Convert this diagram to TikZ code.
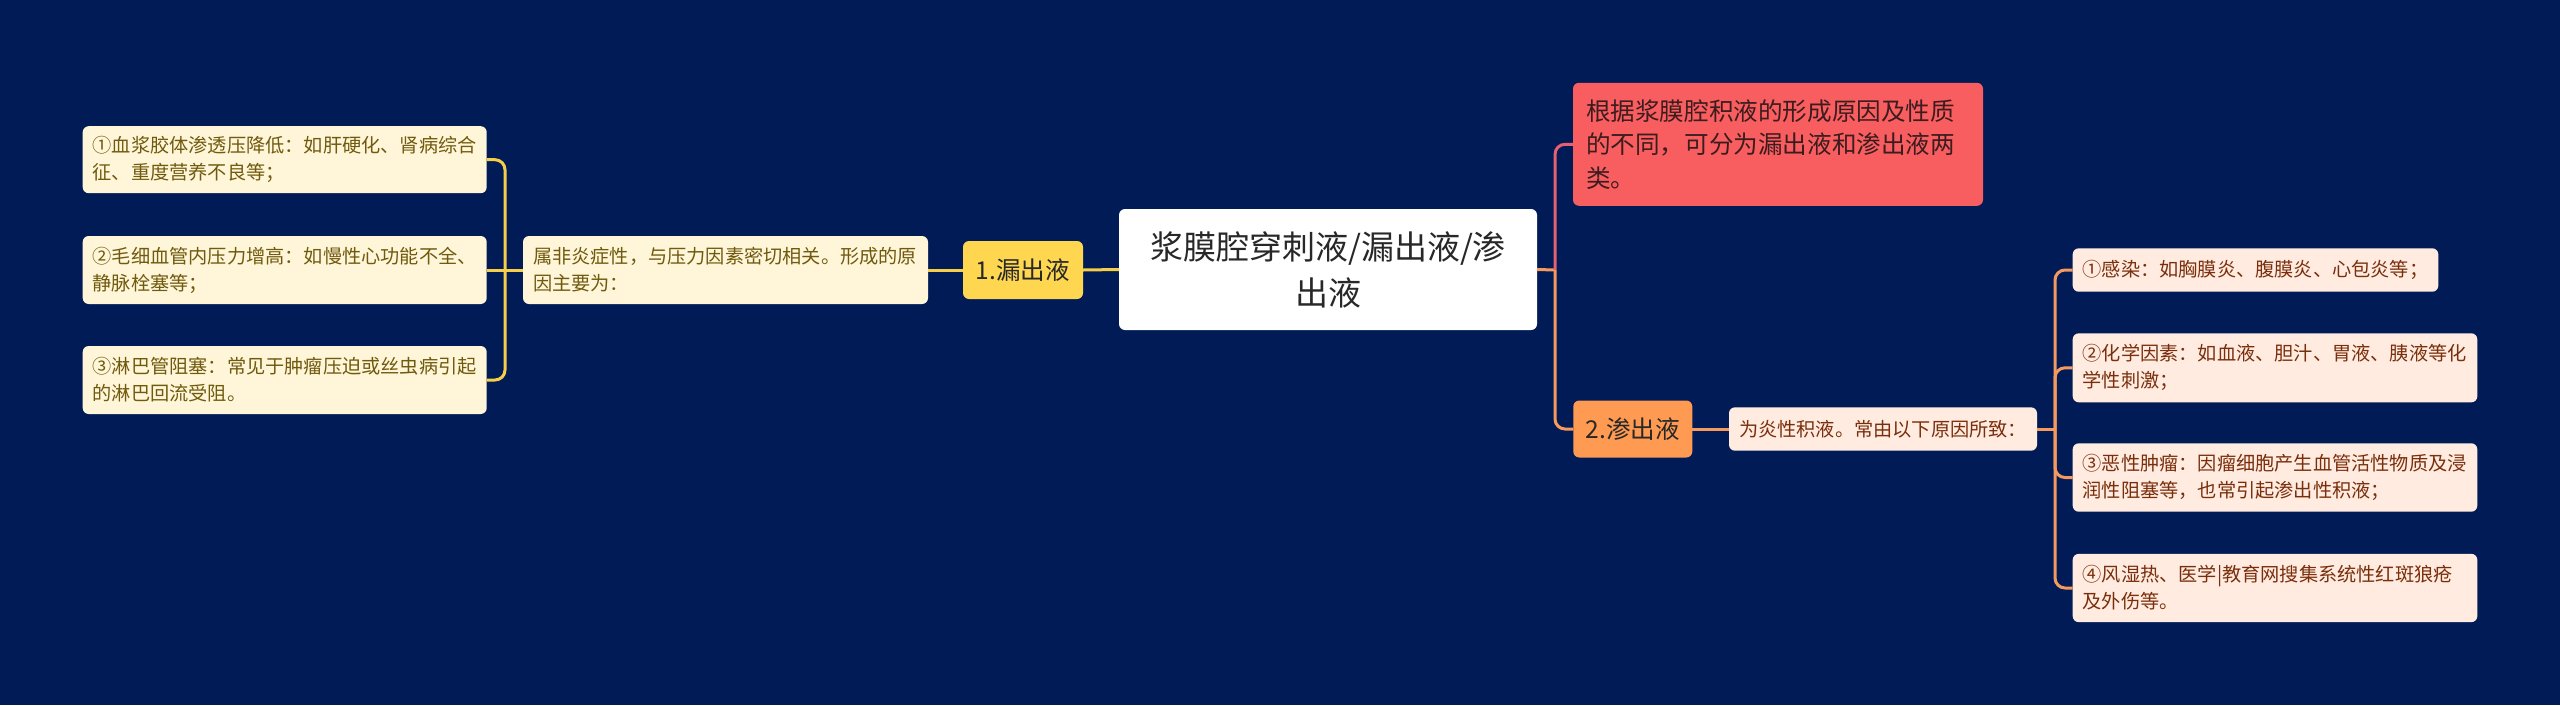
\documentclass[tikz,border=0pt]{standalone}
\usepackage{fontspec}
\setmainfont{Noto Sans CJK SC}
\definecolor{bg}{RGB}{1,27,87}
\definecolor{ylw}{RGB}{255,214,79}
\definecolor{ylwline}{RGB}{246,206,72}
\definecolor{creamY}{RGB}{255,246,217}
\definecolor{oliveT}{RGB}{112,90,14}
\definecolor{redbox}{RGB}{248,94,96}
\definecolor{redT}{RGB}{60,28,30}
\definecolor{pinkline}{RGB}{230,96,112}
\definecolor{orgbox}{RGB}{255,154,82}
\definecolor{orgline}{RGB}{244,154,94}
\definecolor{peach}{RGB}{255,235,224}
\definecolor{brownT}{RGB}{122,47,12}
\definecolor{darkT}{RGB}{40,40,40}
\begin{document}
\begin{tikzpicture}[x=1pt,y=-1pt,
  base/.style={rounded corners=6pt, inner ysep=0pt, outer sep=0pt},
  rootbox/.style={base, fill=white, text=darkT, align=center, inner xsep=10pt,
    font=\fontsize{33}{46}\selectfont},
  lvlY/.style={base, fill=ylw, text=darkT, align=center, inner xsep=0pt,
    font=\fontsize{24.6}{33.5}\selectfont},
  lvlO/.style={base, fill=orgbox, text=darkT, align=center, inner xsep=0pt,
    font=\fontsize{24.6}{33.5}\selectfont},
  rednote/.style={base, fill=redbox, text=redT, align=left, inner xsep=13pt,
    font=\fontsize{24.6}{33.5}\selectfont},
  leafY/.style={base, fill=creamY, text=oliveT, align=left, inner xsep=10pt,
    font=\fontsize{19.2}{27}\selectfont},
  leafO/.style={base, fill=peach, text=brownT, align=left, inner xsep=10pt,
    font=\fontsize{19.2}{27}\selectfont},
  lineY/.style={draw=ylwline, line width=3pt},
  lineO/.style={draw=orgline, line width=3pt},
  lineP/.style={draw=pinkline, line width=3pt},
]
\fill[bg] (0,0) rectangle (2560,705);
\useasboundingbox (0,0) rectangle (2560,705);

% root
\node[rootbox, text width=398pt, minimum height=121pt] (root) at (1328,269.5)
  {浆膜腔穿刺液/漏出液/渗\\出液};

% left branch
\node[lvlY, text width=120pt, minimum height=58pt] (lk) at (1023,270) {1.漏出液};
\node[leafY, text width=385pt, minimum height=68pt] (lkd) at (725.5,270)
  {属非炎症性，与压力因素密切相关。形成的原\\因主要为：};
\node[leafY, text width=384pt, minimum height=67pt] (l1) at (284.7,159.7)
  {①血浆胶体渗透压降低：如肝硬化、肾病综合\\征、重度营养不良等；};
\node[leafY, text width=384pt, minimum height=68pt] (l2) at (284.7,270)
  {②毛细血管内压力增高：如慢性心功能不全、\\静脉栓塞等；};
\node[leafY, text width=384pt, minimum height=68pt] (l3) at (284.7,380)
  {③淋巴管阻塞：常见于肿瘤压迫或丝虫病引起\\的淋巴回流受阻。};

% right branch
\node[rednote, text width=384pt, minimum height=123pt] (note) at (1778,144.3)
  {根据浆膜腔积液的形成原因及性质\\的不同，可分为漏出液和渗出液两\\类。};
\node[lvlO, text width=119pt, minimum height=57pt] (sc) at (1632.8,429) {2.渗出液};
\node[leafO, text width=288pt, minimum height=43.4pt] (scd) at (1883,429)
  {为炎性积液。常由以下原因所致：};
\node[leafO, text width=345.6pt, minimum height=43.4pt] (r1) at (2255.5,270)
  {①感染：如胸膜炎、腹膜炎、心包炎等；};
\node[leafO, text width=384.6pt, minimum height=69pt] (r2) at (2275,367.8)
  {②化学因素：如血液、胆汁、胃液、胰液等化\\学性刺激；};
\node[leafO, text width=384.6pt, minimum height=68.4pt] (r3) at (2275,477.5)
  {③恶性肿瘤：因瘤细胞产生血管活性物质及浸\\润性阻塞等，也常引起渗出性积液；};
\node[leafO, text width=384.6pt, minimum height=68.3pt] (r4) at (2275,588)
  {④风湿热、医学|教育网搜集系统性红斑狼疮\\及外伤等。};

% junction points
\coordinate (lj) at (505,270);
\coordinate (rj) at (1555,270);
\coordinate (sj) at (2055,429);

% connectors left
\draw[lineY] (root.west) -- (lk.east);
\draw[lineY] (lk.west) -- (lkd.east);
\draw[lineY] (lkd.west) -- (lj);
\draw[lineY, rounded corners=10pt] (lj) |- (l1.east);
\draw[lineY] (lj) -- (l2.east);
\draw[lineY, rounded corners=10pt] (lj) |- (l3.east);

% connectors right
\draw[lineO] (root.east) -- (rj);
\draw[lineP, rounded corners=10pt] (rj) |- (note.west);
\draw[lineO, rounded corners=10pt] (rj) |- (sc.west);
\draw[lineO] (sc.east) -- (scd.west);
\draw[lineO] (scd.east) -- (sj);
\draw[lineO, rounded corners=10pt] (sj) |- (r1.west);
\draw[lineO, rounded corners=10pt] (sj) |- (r2.west);
\draw[lineO, rounded corners=10pt] (sj) |- (r3.west);
\draw[lineO, rounded corners=10pt] (sj) |- (r4.west);
\end{tikzpicture}
\end{document}
